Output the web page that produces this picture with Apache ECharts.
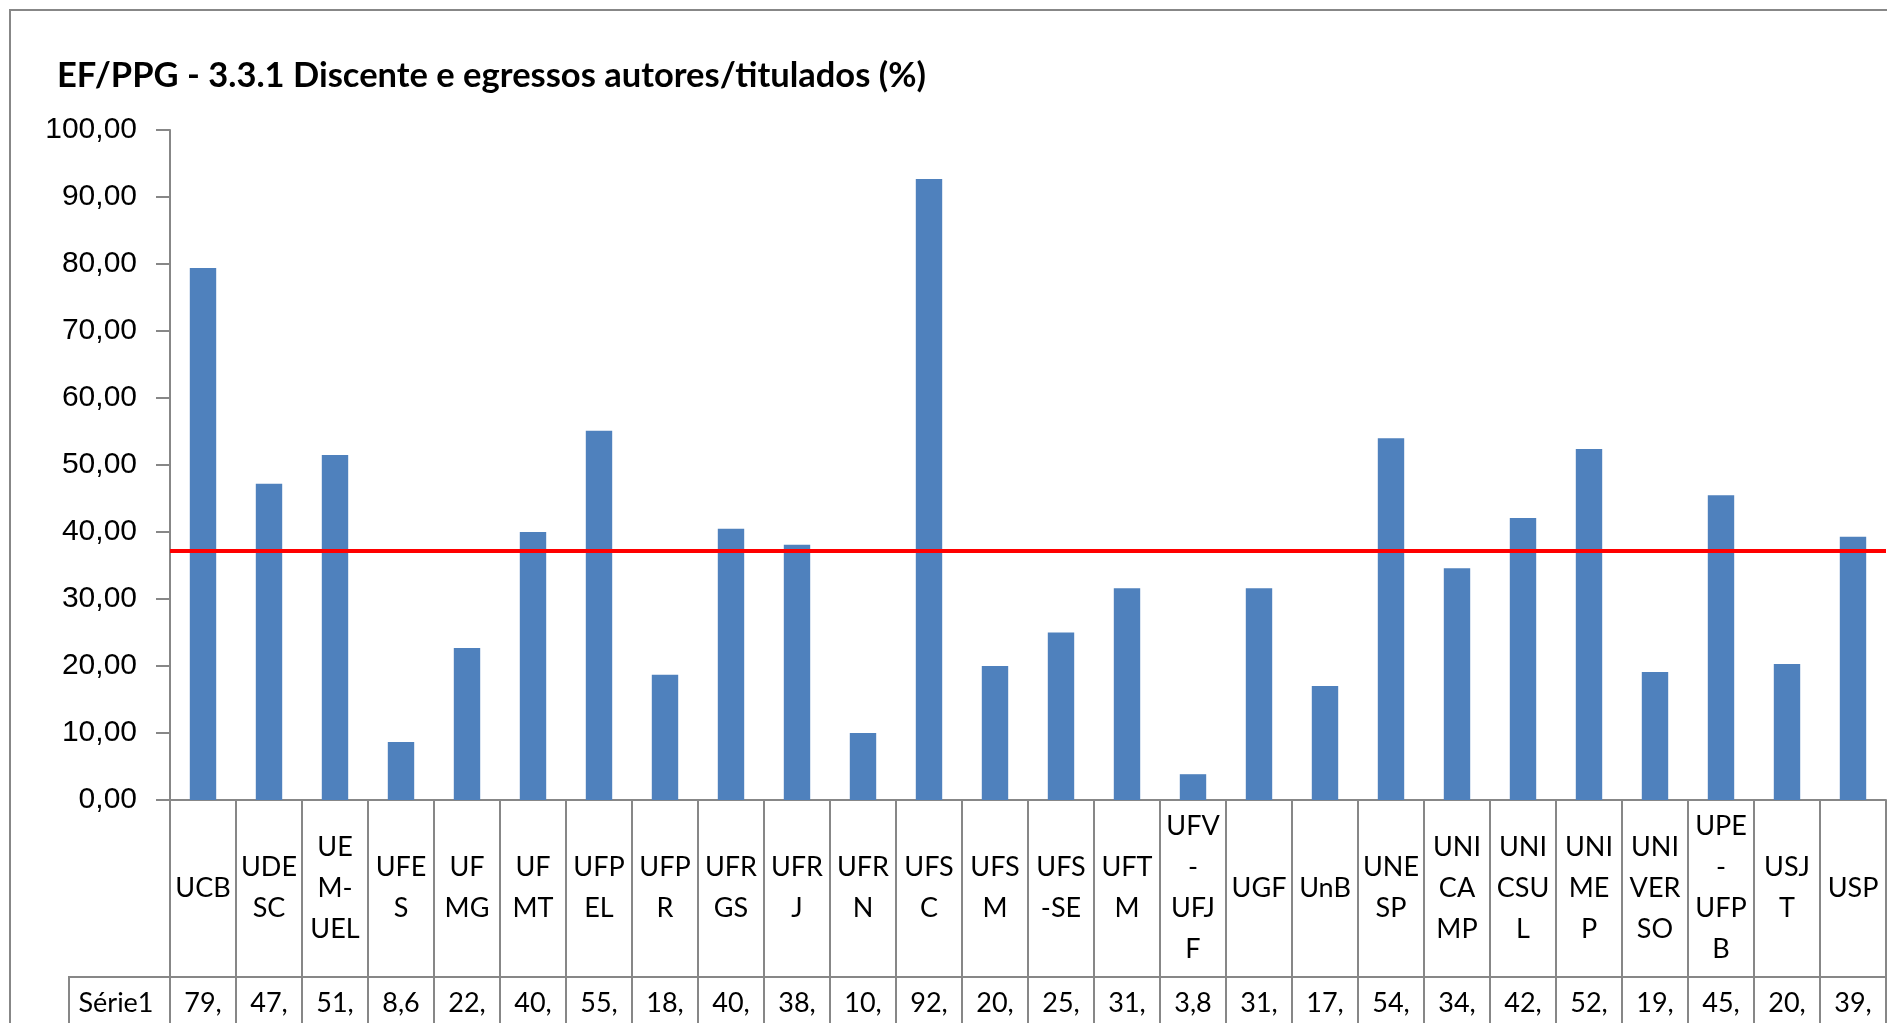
<!DOCTYPE html>
<html>
<head>
<meta charset="utf-8">
<title>EF/PPG - 3.3.1</title>
<script src="https://cdn.jsdelivr.net/npm/echarts@6/dist/echarts.min.js"></script>
<style>
    html, body { margin: 0; padding: 0; background: #fff; overflow: hidden; }
    #container { width: 1887px; height: 1023px; }
</style>
</head>
<body>
<div id="container"></div>
<script>
// programas avaliados
var categories = ['UCB', 'UDESC', 'UEM-UEL', 'UFES', 'UFMG', 'UFMT', 'UFPEL', 'UFPR', 'UFRGS', 'UFRJ',
    'UFRN', 'UFSC', 'UFSM', 'UFS-SE', 'UFTM', 'UFV-UFJF', 'UGF', 'UnB', 'UNESP', 'UNICAMP',
    'UNICSUL', 'UNIMEP', 'UNIVERSO', 'UPE-UFPB', 'USJT', 'USP'];

// rotulos quebrados como na tabela de dados do Excel
var tickLabels = ['UCB', 'UDE\nSC', 'UE\nM-\nUEL', 'UFE\nS', 'UF\nMG', 'UF\nMT', 'UFP\nEL', 'UFP\nR', 'UFR\nGS', 'UFR\nJ',
    'UFR\nN', 'UFS\nC', 'UFS\nM', 'UFS\n-SE', 'UFT\nM', 'UFV\n-\nUFJ\nF', 'UGF', 'UnB', 'UNE\nSP', 'UNI\nCA\nMP',
    'UNI\nCSU\nL', 'UNI\nME\nP', 'UNI\nVER\nSO', 'UPE\n-\nUFP\nB', 'USJ\nT', 'USP'];

// Série1 (%)
var serie1 = [79.4, 47.2, 51.5, 8.66, 22.7, 40.0, 55.1, 18.7, 40.5, 38.1,
    10.0, 92.7, 20.0, 25.0, 31.6, 3.85, 31.6, 17.0, 54.0, 34.6,
    42.1, 52.4, 19.1, 45.5, 20.3, 39.3];

// linha vermelha de referencia
var refLine = [37.2];

var gray = '#878787';
var tableFont = 'Lato, "Open Sans", sans-serif';

function fmt(v) {
    return v.toFixed(2).replace('.', ',');
}

// celula estreita: so cabe o inicio do numero
function cellText(v) {
    return fmt(v).slice(0, 3);
}

var option = {
    animation: false,
    title: {
        text: 'EF/PPG - 3.3.1 Discente e egressos autores/titulados (%)',
        left: 57,
        top: 58,
        padding: 0,
        textStyle: {
            fontFamily: tableFont,
            fontWeight: 'bold',
            fontSize: 34.5,
            color: '#000'
        }
    },
    grid: {
        left: 170,
        right: 1,
        top: 130,
        bottom: 223,
        containLabel: false
    },
    xAxis: [{
        type: 'category',
        data: categories,
        axisLine: { lineStyle: { color: gray, width: 2 } },
        axisTick: {
            show: true,
            interval: 0,
            length: 240,
            lineStyle: { color: gray, width: 2 }
        },
        axisLabel: {
            interval: 0,
            margin: 88,
            verticalAlign: 'middle',
            align: 'center',
            fontFamily: tableFont,
            fontSize: 27,
            lineHeight: 41,
            color: '#000',
            formatter: function (v, i) {
                return tickLabels[i];
            }
        }
    }, {
        type: 'category',
        data: categories,
        position: 'bottom',
        offset: 177,
        axisLine: { show: true, lineStyle: { color: gray, width: 2 } },
        axisTick: { show: false },
        axisLabel: {
            interval: 0,
            margin: 26,
            verticalAlign: 'middle',
            fontFamily: tableFont,
            fontSize: 27,
            color: '#000',
            formatter: function (v, i) {
                return cellText(serie1[i]);
            }
        }
    }],
    yAxis: {
        type: 'value',
        min: 0,
        max: 100,
        interval: 10,
        axisLine: { show: true, lineStyle: { color: gray, width: 2 } },
        axisTick: { show: true, length: 14, lineStyle: { color: gray, width: 2 } },
        splitLine: { show: false },
        axisLabel: {
            margin: 33,
            fontFamily: '"Liberation Sans", Arial, sans-serif',
            fontSize: 30,
            color: '#000',
            formatter: function (v) {
                return fmt(v);
            }
        }
    },
    series: [{
        name: 'Série1',
        type: 'bar',
        xAxisIndex: 0,
        data: serie1,
        barWidth: '40%',
        itemStyle: { color: '#4f81bd' },
        markLine: {
            silent: true,
            symbol: 'none',
            label: { show: false },
            lineStyle: { color: '#ff0000', width: 4, type: 'solid' },
            data: refLine.map(function (v) { return { yAxis: v }; })
        }
    }],
    graphic: [{
        // moldura do grafico (cortada a direita e embaixo)
        type: 'rect',
        shape: { x: 10, y: 10, width: 2000, height: 2000 },
        style: { fill: 'none', stroke: gray, lineWidth: 2 },
        silent: true
    }, {
        type: 'polyline',
        shape: { points: [[69, 1030], [69, 977], [170, 977]] },
        style: { fill: 'none', stroke: gray, lineWidth: 2 },
        silent: true
    }, {
        type: 'text',
        x: 116,
        y: 1003,
        style: {
            text: 'Série1',
            fontFamily: tableFont,
            fontSize: 27,
            fill: '#000',
            align: 'center',
            verticalAlign: 'middle'
        },
        silent: true
    }]
};

var myChart = echarts.init(document.getElementById('container'));
myChart.setOption(option);
</script>
</body>
</html>
